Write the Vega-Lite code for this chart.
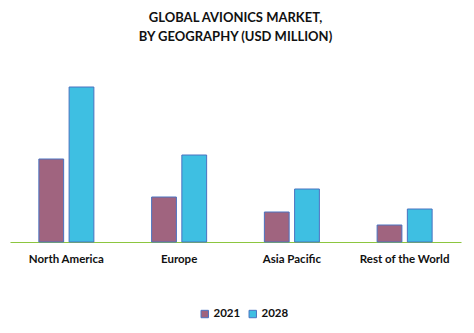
{
  "$schema": "https://vega.github.io/schema/vega-lite/v6.json",
  "width": 451,
  "height": 172,
  "autosize": {"type": "none"},
  "padding": {"left": 10, "top": 70, "right": 13, "bottom": 91},
  "background": "white",
  "title": {
    "text": ["GLOBAL AVIONICS MARKET,", "BY GEOGRAPHY (USD MILLION)"],
    "font": "Lato",
    "fontSize": 13,
    "fontWeight": "bold",
    "color": "#111111",
    "anchor": "middle",
    "lineHeight": 19,
    "offset": 26
  },
  "data": {
    "values": [
      {"region": "North America", "year": "2021", "value": 83},
      {"region": "North America", "year": "2028", "value": 155},
      {"region": "Europe", "year": "2021", "value": 45},
      {"region": "Europe", "year": "2028", "value": 87},
      {"region": "Asia Pacific", "year": "2021", "value": 30},
      {"region": "Asia Pacific", "year": "2028", "value": 53},
      {"region": "Rest of the World", "year": "2021", "value": 17},
      {"region": "Rest of the World", "year": "2028", "value": 33}
    ]
  },
  "mark": {"type": "bar", "stroke": "#4a72c0", "strokeWidth": 1},
  "encoding": {
    "x": {
      "field": "region",
      "type": "nominal",
      "sort": ["North America", "Europe", "Asia Pacific", "Rest of the World"],
      "scale": {"paddingInner": 0.512, "paddingOuter": 0.256},
      "axis": {
        "title": null,
        "labelAngle": 0,
        "ticks": false,
        "domainColor": "#8cc63f",
        "domainWidth": 1.2,
        "labelFont": "Lato",
        "labelFontSize": 11.5,
        "labelFontWeight": "bold",
        "labelColor": "#111111",
        "labelPadding": 11
      }
    },
    "xOffset": {
      "field": "year",
      "type": "nominal",
      "scale": {"paddingInner": 0.18, "paddingOuter": 0}
    },
    "y": {
      "field": "value",
      "type": "quantitative",
      "scale": {"domain": [0, 172]},
      "axis": null
    },
    "color": {
      "field": "year",
      "type": "nominal",
      "scale": {"domain": ["2021", "2028"], "range": ["#a0647f", "#3ebfe2"]},
      "legend": {
        "title": null,
        "orient": "none",
        "legendX": 189,
        "legendY": 238,
        "direction": "horizontal",
        "symbolType": "square",
        "symbolSize": 55,
        "symbolStrokeColor": "#4a72c0",
        "symbolStrokeWidth": 1,
        "labelFont": "Lato",
        "labelFontSize": 11.5,
        "labelFontWeight": "bold",
        "labelColor": "#111111",
        "labelOffset": 3,
        "columnPadding": 6
      }
    }
  },
  "config": {"view": {"stroke": null}}
}
